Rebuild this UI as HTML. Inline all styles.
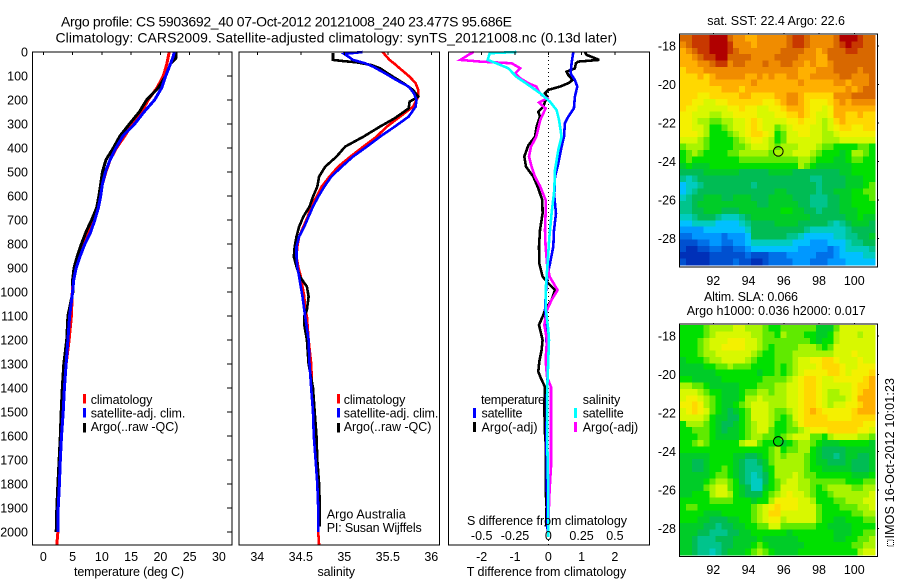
<!DOCTYPE html>
<html lang="en">
<head>
<meta charset="utf-8">
<title>Argo profile 5903692_40</title>
<style>
html,body{margin:0;padding:0;background:#fff;}
svg{display:block;}
text{font-family:"Liberation Sans",Arial,sans-serif;font-size:12.5px;fill:#000;}
.title{font-size:14px;}
.line{fill:none;stroke-linejoin:miter;shape-rendering:crispEdges;}
.frame{fill:none;stroke:#000;stroke-width:1;shape-rendering:crispEdges;}
</style>
</head>
<body>
<svg id="chart" xmlns="http://www.w3.org/2000/svg" width="900" height="580" viewBox="0 0 900 580">
  <rect x="0" y="0" width="900" height="580" fill="#fff"/>

  <text class="title" x="61" y="26.5" textLength="451" lengthAdjust="spacing">Argo profile: CS 5903692_40 07-Oct-2012 20121008_240 23.477S 95.686E</text>
  <text class="title" x="55.5" y="42.5" textLength="561.5" lengthAdjust="spacing">Climatology: CARS2009. Satellite-adjusted climatology: synTS_20121008.nc (0.13d later)</text>

  <g id="panel-t"></g>
  <g id="panel-s"></g>
  <g id="panel-d"></g>
  <g id="map-sst"></g>
  <g id="map-sla"></g>

  <text x="74" y="576" textLength="110" lengthAdjust="spacing">temperature (deg C)</text>
  <text x="317.5" y="576" textLength="37.5" lengthAdjust="spacing">salinity</text>
  <text x="466.7" y="576" textLength="159.5" lengthAdjust="spacing">T difference from climatology</text>
  <text x="467" y="525" textLength="160" lengthAdjust="spacing">S difference from climatology</text>

  <g>
    <g>
      <rect x="83" y="394" width="3" height="9.5" fill="#f00"/>
      <text x="90.7" y="404" textLength="61.7" lengthAdjust="spacing">climatology</text>
    </g>
    <g>
      <rect x="83" y="408" width="3" height="9.5" fill="#00f"/>
      <text x="90.7" y="417.5" textLength="94.7" lengthAdjust="spacing">satellite-adj. clim.</text>
    </g>
    <g>
      <rect x="83" y="423" width="3" height="9.5" fill="#000"/>
      <text x="90.7" y="431" textLength="87.7" lengthAdjust="spacing">Argo(..raw -QC)</text>
    </g>
  </g>

  <g>
    <g>
      <rect x="337" y="394" width="3" height="9.5" fill="#f00"/>
      <text x="343.7" y="404" textLength="61.7" lengthAdjust="spacing">climatology</text>
    </g>
    <g>
      <rect x="337" y="408" width="3" height="9.5" fill="#00f"/>
      <text x="343.7" y="417.5" textLength="94.7" lengthAdjust="spacing">satellite-adj. clim.</text>
    </g>
    <g>
      <rect x="337" y="423" width="3" height="9.5" fill="#000"/>
      <text x="343.7" y="431" textLength="87.7" lengthAdjust="spacing">Argo(..raw -QC)</text>
    </g>
  </g>

  <text x="326.7" y="518.3" textLength="79" lengthAdjust="spacing">Argo Australia</text>
  <text x="326.7" y="532" textLength="95" lengthAdjust="spacing">PI: Susan Wijffels</text>

  <g>
    <text x="481" y="404" textLength="64" lengthAdjust="spacing">temperature</text>
    <text x="582.7" y="404" textLength="37.6" lengthAdjust="spacing">salinity</text>
    <rect x="473" y="408" width="3" height="10" fill="#00f"/>
    <text x="481.5" y="417.5" textLength="41" lengthAdjust="spacing">satellite</text>
    <rect x="473" y="422" width="3" height="10" fill="#000"/>
    <text x="481.5" y="431.5" textLength="56" lengthAdjust="spacing">Argo(-adj)</text>
    <rect x="574" y="408" width="3" height="10" fill="#0ff"/>
    <text x="582.7" y="417.5" textLength="41" lengthAdjust="spacing">satellite</text>
    <rect x="574" y="422" width="3" height="10" fill="#f0f"/>
    <text x="582.7" y="431.5" textLength="55.5" lengthAdjust="spacing">Argo(-adj)</text>
  </g>

  <text x="707.3" y="25" textLength="137.7" lengthAdjust="spacing">sat. SST: 22.4 Argo: 22.6</text>
  <text x="704" y="301" textLength="94" lengthAdjust="spacing">Altim. SLA: 0.066</text>
  <text x="686.7" y="315" textLength="179" lengthAdjust="spacing">Argo h1000: 0.036 h2000: 0.017</text>

  <g>
    <rect x="887.5" y="540" width="6" height="6" fill="none" stroke="#000" stroke-width="1" stroke-dasharray="1 1"/>
    <text transform="translate(894,538.5) rotate(-90)" x="0" y="0" textLength="160.5" lengthAdjust="spacing">IMOS 16-Oct-2012 10:01:23</text>
  </g>
</svg>

<script>
// ---- axis ticks ----
var depthTicks = [0,100,200,300,400,500,600,700,800,900,1000,1100,1200,1300,1400,1500,1600,1700,1800,1900,2000];
var tempTicks = [0,5,10,15,20,25,30];
var salTicks = [34,34.5,35,35.5,36];
var tDiffTicks = [-2,-1,0,1,2];
var sDiffTicks = [-0.5,-0.25,0,0.25,0.5];
var sDiffTickLabels = ["-0.5","-0.25","0","0.25","0.5"];
var lonTicks = [92,94,96,98,100];
var latTicks = [-18,-20,-22,-24,-26,-28];

// ---- temperature profiles (deg C) ----
var tempDepths = [0,25,50,100,150,200,250,300,350,400,450,500,550,600,650,700,750,800,850,900,950,1000,1100,1200,1300,1400,1500,1600,1700,1800,1900,2000,2054];
var tempClim = [21.5,21.3,21.1,20.5,19.4,17.9,16.8,15.2,13.9,12.5,11.4,10.7,10.1,9.7,9.2,8.5,7.7,6.7,6,5.4,5.1,4.95,4.8,4.4,3.9,3.5,3.3,3.1,2.85,2.7,2.5,2.5,2.3];
var tempArgo = [22.65,22.65,21.7,20.9,19.6,17.65,16.4,14.7,13.1,11.95,10.7,10.1,9.8,9.5,9.1,8.25,7.3,6.5,5.8,5.25,5,5.05,4.2,4,3.5,3.25,3.05,2.9,2.7,2.5,2.3,2.2,null];
var tempSat = [22.4,22.1,21.7,20.9,20.2,19,17.2,15.6,13.6,12.4,11.4,10.6,10.1,9.8,9.4,8.8,8.1,7.1,6.3,5.6,5.2,5,4.5,4.2,3.9,3.6,3.4,3.1,2.9,2.75,2.55,2.55,null];

// ---- salinity profiles ----
var salClimDepths = [0,33,47,75,103,130,158,186,228,269,311,353,394,436,478,519,561,603,644,686,728,769,811,853,894,936,978,1019,1075,1100,1200,1300,1400,1500,1600,1700,1800,1900,2000,2054];
var salClim = [35.44,35.52,35.57,35.66,35.75,35.82,35.85,35.85,35.79,35.64,35.49,35.37,35.22,35.07,34.93,34.83,34.74,34.68,34.62,34.58,34.53,34.48,34.46,34.45,34.47,34.5,34.52,34.54,34.55,34.57,34.59,34.62,34.63,34.645,34.66,34.67,34.69,34.7,34.7,34.71];
var salArgoDepths = [5,33,38,43,54,68,82,103,130,158,186,207,235,276,311,353,394,436,478,519,561,603,644,686,728,769,811,853,894,936,978,1019,1075,1100,1137,1200,1300,1400,1500,1600,1700,1800,1900,1978];
var salArgo = [34.87,34.87,34.99,35.14,35.31,35.41,35.47,35.56,35.68,35.79,35.85,35.75,35.74,35.58,35.41,35.22,35.01,34.91,34.78,34.71,34.69,34.64,34.6,34.53,34.48,34.45,34.43,34.42,34.45,34.49,34.57,34.59,34.57,34.54,34.54,34.57,34.59,34.64,34.66,34.68,34.69,34.71,34.72,34.72];
var salSatDepths = [0,8,20,33,47,61,89,117,144,172,200,228,269,311,353,394,436,478,519,561,603,644,686,728,769,811,853,894,936,978,1019,1075,1100,1200,1300,1400,1500,1600,1700,1800,1900,2000];
var salSat = [35.21,35,35.05,35.1,35.24,35.33,35.47,35.6,35.74,35.8,35.83,35.82,35.74,35.58,35.41,35.26,35.1,34.97,34.85,34.77,34.7,34.64,34.59,34.54,34.48,34.45,34.45,34.46,34.48,34.5,34.52,34.54,34.55,34.59,34.6,34.62,34.64,34.65,34.67,34.69,34.7,34.7];

// ---- differences from climatology ----
var tDiffSatDepths = [0,47,89,117,144,186,235,269,297,353,394,464,519,603,672,742,811,881,936,992,1075,1300,1600,2000];
var tDiffSat = [0.75,0.7,0.67,0.8,0.87,0.8,0.77,0.6,0.5,0.47,0.4,0.3,0.2,0.18,0.23,0.17,0.15,0.05,-0.03,-0.07,-0.1,-0.02,-0.06,-0.02];
var tDiffArgoDepths = [0,12,33,40,47,68,82,96,117,130,144,158,172,186,207,228,249,269,311,353,389,436,478,519,561,617,672,742,811,881,936,964,992,1033,1075,1096,1137,1172,1200,1242,1290,1332,1360,1396,1479,1590,1647,1744,1825,1894,1978];
var tDiffArgo = [1.1,1.15,1.53,0.9,0.83,0.8,0.55,0.6,0.73,0.6,0.35,0,-0.1,-0.03,-0.1,-0.15,-0.3,-0.25,-0.35,-0.4,-0.6,-0.72,-0.67,-0.45,-0.32,-0.18,-0.17,-0.25,-0.28,-0.27,-0.17,0,0.2,0.1,-0.1,-0.15,-0.28,-0.22,-0.17,-0.2,-0.27,-0.3,-0.22,-0.1,-0.12,-0.1,-0.07,-0.08,-0.08,-0.05,-0.07];
var sDiffSatDepths = [0,5,33,47,68,103,137,172,207,242,283,353,408,492,575,672,769,881,978,1075,1158,1200,1408,1617,1825,2020];
var sDiffSat = [-0.24,-0.44,-0.455,-0.39,-0.3,-0.24,-0.15,-0.06,0.0125,0.0625,0.08,0.1,0.075,0.05,0.045,0.025,0.008,-0.005,-0.018,-0.018,0,0.005,-0.008,-0.008,0,0];
var sDiffArgoDepths = [0,12,33,40,47,68,89,110,130,144,165,179,193,211,235,283,353,394,436,478,519,561,617,672,742,811,881,936,992,1033,1075,1137,1200,1283,1353,1396,1590,1728,1825,1964];
var sDiffArgo = [-0.56,-0.6,-0.66,-0.51,-0.275,-0.21,-0.25,-0.21,-0.15,-0.09,-0.07,-0.05,-0.01,-0.07,-0.02,-0.06,-0.09,-0.13,-0.145,-0.125,-0.1,-0.06,-0.02,-0.02,-0.025,-0.02,-0.01,0.01,0.07,0.025,-0.01,-0.03,-0.01,-0.02,-0.01,0.02,0.02,0.02,0.01,0];

// ---- Argo float position ----
var argoLon = 95.69;
var argoLat = -23.48;

// ---- map colour levels (0 = coldest/lowest, 19 = warmest/highest), rows north to south ----
var sstGrid = [
[17,17,18,18,18,19,19,19,17,16,16,15,15,16,16,16,16,16,17,18,18,17,16,16,16,16,17,19,19,19,18,17,17],
[16,17,18,18,18,19,19,19,18,16,16,16,15,16,16,16,16,16,17,18,18,17,16,16,16,16,17,18,19,18,18,17,17],
[15,16,17,18,18,19,19,19,18,17,16,16,16,16,16,16,16,17,17,17,17,16,16,15,16,17,17,17,18,18,17,17,17],
[15,15,16,17,18,18,19,19,17,17,17,17,16,16,16,16,17,17,17,17,16,16,16,15,15,17,17,17,17,17,17,17,17],
[15,15,15,16,16,17,18,18,16,17,17,16,16,16,17,16,16,17,17,16,16,15,16,15,15,16,17,17,17,17,17,17,17],
[14,15,15,15,16,16,16,16,16,16,16,16,16,16,16,16,16,16,16,16,15,15,15,16,16,16,17,17,17,17,16,17,17],
[14,14,14,15,14,15,16,16,16,16,16,15,15,16,15,16,15,15,16,16,15,15,16,16,16,16,16,17,17,16,16,16,17],
[14,14,14,14,14,15,15,15,15,15,15,15,16,15,15,15,15,15,15,15,16,15,15,15,15,15,16,16,15,16,16,16,17],
[14,14,14,14,14,14,14,15,15,15,14,15,15,15,15,15,15,15,15,15,15,15,15,15,15,15,15,15,16,15,16,17,17],
[14,14,14,13,13,14,14,14,14,14,15,15,14,14,14,14,15,15,16,16,15,14,14,14,14,14,16,16,16,17,17,17,17],
[14,14,13,13,12,12,13,13,14,14,14,14,14,14,13,13,14,15,16,16,15,14,13,13,13,14,15,16,15,16,16,16,16],
[14,13,13,12,12,12,12,12,13,13,14,13,13,12,12,13,13,14,15,15,15,14,13,13,12,13,15,15,15,15,15,15,15],
[13,13,12,12,12,11,11,12,12,13,13,13,13,12,12,12,13,13,14,14,15,14,13,12,12,13,15,15,14,14,15,14,14],
[13,13,12,11,11,10,10,11,11,12,12,13,14,13,12,12,12,12,13,13,14,13,13,12,11,12,14,15,14,14,14,14,14],
[13,13,12,12,11,9,9,10,11,12,12,13,14,13,12,12,10,11,12,13,13,13,12,12,11,12,13,14,14,13,13,14,14],
[13,13,13,12,11,9,9,9,10,11,12,13,14,14,13,12,9,10,12,12,13,13,12,12,11,11,12,13,13,13,13,13,13],
[12,12,12,11,10,9,9,9,9,10,11,12,13,13,12,11,9,10,12,12,12,12,12,12,11,11,11,12,12,12,12,12,12],
[10,11,11,11,10,9,9,9,9,10,10,11,12,12,12,11,10,11,11,11,12,12,12,11,10,10,9,9,9,9,10,10,9],
[9,10,11,10,9,9,9,9,10,10,11,11,11,11,11,10,11,11,11,12,12,12,11,10,9,9,9,8,9,11,11,10,9],
[9,10,9,9,9,9,9,9,9,9,10,10,10,10,10,10,10,10,10,10,11,11,10,9,9,9,8,8,9,10,10,9,9],
[8,9,8,8,8,9,9,9,9,9,9,9,9,9,9,9,9,9,9,9,11,10,9,8,8,8,8,8,8,9,9,9,9],
[7,7,7,7,8,8,8,8,8,8,7,7,7,7,7,8,8,8,8,7,7,7,7,7,7,7,7,8,8,9,9,9,9],
[6,5,6,7,7,7,7,7,7,7,7,7,7,7,7,7,7,7,7,7,7,7,6,6,7,7,7,7,8,8,8,9,9],
[4,5,5,6,7,7,7,7,7,7,7,7,6,7,7,7,7,7,7,7,7,7,7,6,7,7,7,7,8,8,8,9,10],
[4,5,6,7,7,7,7,7,7,7,7,7,7,7,7,7,8,8,7,7,7,7,7,6,7,7,8,8,8,9,9,10,10],
[5,6,7,7,8,8,8,7,7,8,8,8,7,7,7,8,8,8,8,7,7,7,6,6,6,7,7,8,8,9,9,9,10],
[6,6,7,8,8,8,8,8,8,8,8,8,8,7,7,8,8,8,8,8,7,7,6,6,6,7,7,8,8,9,9,9,9],
[6,6,7,7,8,8,8,7,7,7,8,8,8,8,8,8,8,9,9,8,8,7,7,6,7,7,7,8,8,8,9,9,9],
[5,5,6,7,7,7,6,5,5,5,6,7,8,8,8,8,8,8,8,8,8,8,7,7,7,7,7,7,8,8,9,8,8],
[4,4,5,5,5,5,4,4,4,4,5,6,7,7,7,7,8,8,8,8,7,7,7,7,7,6,5,6,7,8,8,8,7],
[3,3,3,3,4,4,4,4,4,4,4,5,7,7,7,7,7,7,7,7,7,6,5,5,5,5,5,5,6,7,7,7,7],
[2,2,3,3,3,3,3,2,3,3,3,4,7,7,7,7,7,7,6,6,5,4,4,4,4,4,5,5,6,6,7,7,8],
[1,1,1,2,2,3,3,2,2,3,3,4,5,5,5,5,5,5,5,4,4,4,3,3,3,4,4,4,5,6,6,7,7],
[1,0,0,1,1,2,2,1,1,2,2,3,4,4,4,4,4,4,4,4,3,3,3,3,3,2,3,4,5,5,5,5,6],
[0,0,0,0,0,1,1,1,1,1,1,2,1,1,1,2,2,2,3,3,3,3,3,2,2,2,3,4,4,4,4,5,5],
[1,0,0,0,0,1,1,1,1,2,1,1,0,0,1,2,2,2,2,3,3,3,2,2,2,3,3,3,4,4,4,4,4]
];
var slaGrid = [
[9,9,9,9,10,11,11,11,11,12,12,11,11,11,10,9,9,10,10,10,10,10,10,8,8,8,10,12,12,12,12,12,12],
[9,9,9,9,10,11,12,12,12,12,12,12,11,11,10,10,9,11,10,10,10,9,9,8,8,9,11,12,12,12,11,12,12],
[9,9,9,10,11,12,12,12,13,13,13,12,12,11,10,10,10,10,10,10,10,10,9,8,9,9,11,12,12,12,12,12,12],
[9,9,9,10,11,12,12,13,13,13,13,12,12,11,10,9,10,10,10,10,11,11,11,10,9,10,12,12,12,12,12,12,12],
[9,9,9,10,11,11,12,12,12,12,12,12,11,10,9,9,10,10,10,11,11,11,11,11,11,11,12,12,12,13,12,12,12],
[8,9,9,9,10,11,11,12,12,12,12,11,10,9,9,9,10,10,10,11,12,12,13,13,14,14,13,12,12,12,13,12,12],
[8,8,8,8,9,9,10,10,11,10,10,10,9,9,9,9,10,9,10,11,12,12,12,13,14,14,14,13,12,12,13,13,13],
[8,8,8,8,8,8,9,9,9,9,9,9,9,8,9,9,10,9,10,11,12,13,13,13,13,14,14,13,12,13,13,13,14],
[9,9,8,8,8,8,8,9,9,9,9,9,9,9,10,10,10,10,11,12,13,14,14,13,12,12,13,13,13,13,13,14,15],
[11,11,10,10,9,8,8,8,8,8,9,9,9,10,10,10,11,11,12,12,13,14,14,13,12,12,12,12,12,13,14,14,15],
[12,12,12,11,10,9,9,8,8,8,9,10,10,11,11,10,11,11,12,12,13,14,14,13,12,11,11,12,12,13,14,15,15],
[12,13,13,12,11,10,9,8,8,8,9,11,11,12,11,11,11,11,12,12,13,14,14,13,12,11,11,11,12,13,15,15,15],
[13,13,14,13,11,10,9,8,8,9,10,11,12,12,12,11,11,11,12,12,13,14,14,13,12,11,12,12,13,13,14,15,15],
[12,13,14,13,12,10,9,8,7,8,9,10,12,12,12,11,10,10,11,12,13,14,15,14,13,13,13,13,13,14,15,15,15],
[12,12,12,12,11,9,8,8,7,7,9,10,12,12,12,11,10,9,10,12,13,14,14,14,14,13,13,13,13,14,14,14,14],
[9,11,11,11,10,9,8,7,7,8,9,10,11,12,12,11,9,9,10,11,13,14,14,14,14,14,14,14,14,14,14,13,13],
[9,9,10,10,10,9,8,7,8,8,9,10,11,12,12,10,9,9,10,10,11,12,13,13,13,14,14,14,14,14,13,13,12],
[9,9,9,10,10,9,8,8,8,8,9,10,11,11,10,10,9,10,11,12,12,12,10,10,9,11,12,12,12,12,11,11,10],
[9,9,10,11,10,9,9,9,9,9,11,12,12,10,9,9,9,8,9,10,11,11,10,9,8,8,8,9,9,9,9,9,8],
[9,9,9,9,9,9,9,9,9,9,9,9,9,9,9,10,11,9,10,10,11,11,9,8,7,7,7,7,8,8,8,8,8],
[8,8,8,8,8,9,9,9,9,8,8,7,7,8,9,10,11,10,11,11,11,10,9,8,7,7,6,7,8,8,7,7,8],
[8,8,7,7,8,9,9,9,9,8,7,6,6,7,8,10,11,11,11,11,11,10,9,8,8,7,7,7,8,7,7,7,8],
[8,8,7,7,8,9,9,10,9,8,7,6,6,6,8,9,11,11,11,11,11,10,9,9,8,8,8,8,8,7,7,7,8],
[8,8,8,8,8,9,10,10,9,8,7,6,5,6,7,9,11,11,11,12,11,10,10,9,9,9,9,9,9,8,8,8,9],
[8,8,8,8,9,10,11,11,10,9,7,6,5,5,7,9,10,11,12,12,11,11,10,10,10,10,10,10,9,9,9,10,10],
[8,8,8,8,10,11,12,12,10,9,8,7,5,5,8,9,10,12,12,12,11,11,10,9,10,11,11,11,11,10,10,11,11],
[8,8,9,9,9,11,12,12,11,9,8,7,7,7,9,10,11,12,13,12,12,11,10,9,9,10,11,11,11,11,11,11,12],
[9,9,9,9,9,10,10,10,10,9,9,9,8,9,9,11,13,13,13,13,12,12,11,9,9,9,10,10,11,11,11,12,12],
[9,10,10,9,9,9,9,9,9,9,9,9,10,11,12,13,14,13,13,13,12,12,12,10,9,9,9,10,10,10,11,11,12],
[9,9,9,9,8,8,8,9,9,9,9,9,10,11,12,14,14,12,12,12,12,12,12,10,9,9,9,9,9,10,10,11,11],
[9,9,9,8,8,7,7,7,8,8,9,9,10,11,12,13,13,11,12,12,12,12,12,10,9,9,8,8,9,9,9,10,10],
[8,8,8,8,7,7,6,7,7,8,8,9,9,10,10,12,12,10,10,10,10,10,10,9,9,8,8,8,8,9,9,9,9],
[8,8,8,7,7,6,6,6,7,7,8,8,9,9,9,9,9,9,8,9,9,9,9,9,9,9,8,8,8,9,9,10,10],
[8,8,7,6,6,6,7,7,7,8,8,8,8,9,8,8,8,8,8,8,9,9,9,9,9,9,8,8,9,9,10,10,11],
[8,8,7,6,6,6,6,7,7,8,8,8,9,10,9,8,8,8,8,8,8,9,9,9,9,9,9,9,9,10,10,11,11],
[8,8,7,6,6,5,6,7,8,8,8,9,10,11,10,9,8,8,8,8,9,9,9,9,9,9,9,9,9,9,11,12,12]
];
var levelColors = ["#0030b8","#0050d0","#0070e8","#0098ff","#00c0ff","#00ccc0","#00c48c","#00bc54","#00cc28","#00e000","#60ea00","#a8f400","#d8f800","#f4f000","#ffd800","#ffb000","#f08c00","#d86800","#c83800","#b00000"];

// ---- axis functions ----
function yDepth(d){ return 52 + d * 0.24; }
function xTemp(t){ return 43.3 + t * 5.855; }
function xSal(s){ return 257.3 + (s - 34) * 87; }
function xTDiff(t){ return 548.3 + t * 33.3; }
function xSDiff(s){ return 548.3 + s * 133.2; }
function xLon(lon){ return 713.3 + (lon - 92) * 17.62; }
function ySst(lat){ return 46 + (-18 - lat) * 19.23; }
function ySla(lat){ return 336 + (-18 - lat) * 19.23; }

var NS = "http://www.w3.org/2000/svg";
function make(tag, attrs, parent){
  var el = document.createElementNS(NS, tag);
  for (var k in attrs) el.setAttribute(k, attrs[k]);
  parent.appendChild(el);
  return el;
}
function drawProfile(parent, depths, values, xFn, color, width, name){
  var pts = [];
  for (var i = 0; i < depths.length; i++){
    if (values[i] === null || values[i] === undefined) continue;
    pts.push(xFn(values[i]).toFixed(1) + "," + yDepth(depths[i]).toFixed(1));
  }
  var el = make("polyline", {"class":"line", points:pts.join(" "), stroke:color, "stroke-width":width}, parent);
  
  
}
function drawTick(parent, x1, y1, x2, y2){
  var el = make("line", {x1:x1, y1:y1, x2:x2, y2:y2, stroke:"#000", "stroke-width":1, "shape-rendering":"crispEdges"}, parent);
  
  
}
function drawLabel(parent, x, y, txt, anchor, name){
  var el = make("text", {x:x, y:y, "text-anchor":anchor}, parent);
  el.textContent = txt;
  
  
}
function drawFrame(parent, x, y, w, h, name){
  var el = make("rect", {"class":"frame", x:x, y:y, width:w, height:h}, parent);
  
  
}

// temperature panel
var pT = document.getElementById("panel-t");
drawProfile(pT, tempDepths, tempClim, xTemp, "#f00", 3, "temperature-climatology-line");
drawProfile(pT, tempDepths, tempArgo, xTemp, "#000", 3, "temperature-argo-line");
drawProfile(pT, tempDepths, tempSat, xTemp, "#00f", 3, "temperature-satellite-line");
drawFrame(pT, 32.5, 52, 199.5, 493, "temperature-plot-frame");
depthTicks.forEach(function(d){
  drawTick(pT, 227, yDepth(d), 232, yDepth(d));
  drawLabel(pT, 28, yDepth(d) + 4.5, String(d), "end", "depth-tick-label");
});
tempTicks.forEach(function(t){
  drawTick(pT, xTemp(t), 52, xTemp(t), 55);
  drawLabel(pT, xTemp(t), 561, String(t), "middle", "temperature-tick-label");
});

// salinity panel
var pS = document.getElementById("panel-s");
drawProfile(pS, salClimDepths, salClim, xSal, "#f00", 2.6, "salinity-climatology-line");
drawProfile(pS, salArgoDepths, salArgo, xSal, "#000", 2.6, "salinity-argo-line");
drawProfile(pS, salSatDepths, salSat, xSal, "#00f", 2.6, "salinity-satellite-line");
drawFrame(pS, 239, 52, 200.5, 493, "salinity-plot-frame");
salTicks.forEach(function(s){
  drawTick(pS, xSal(s), 52, xSal(s), 55);
  drawLabel(pS, xSal(s), 561, String(s), "middle", "salinity-tick-label");
});

// difference panel
var pD = document.getElementById("panel-d");
var zeroLine = make("line", {x1:xTDiff(0), y1:52, x2:xTDiff(0), y2:545, stroke:"#000", "stroke-width":1, "stroke-dasharray":"1 3", "shape-rendering":"crispEdges"}, pD);


drawProfile(pD, tDiffArgoDepths, tDiffArgo, xTDiff, "#000", 2.6, "t-difference-argo-line");
drawProfile(pD, tDiffSatDepths, tDiffSat, xTDiff, "#00f", 2.6, "t-difference-satellite-line");
drawProfile(pD, sDiffArgoDepths, sDiffArgo, xSDiff, "#f0f", 2.6, "s-difference-argo-line");
drawProfile(pD, sDiffSatDepths, sDiffSat, xSDiff, "#0ff", 2.6, "s-difference-satellite-line");
drawFrame(pD, 448.5, 52, 201, 493, "difference-plot-frame");
tDiffTicks.forEach(function(t){
  drawTick(pD, xTDiff(t), 52, xTDiff(t), 55);
  drawLabel(pD, xTDiff(t), 561, String(t), "middle", "t-difference-tick-label");
});
sDiffTicks.forEach(function(s, i){
  drawLabel(pD, xSDiff(s), 540, sDiffTickLabels[i], "middle", "s-difference-tick-label");
});

// maps
function drawMap(parent, grid, x0, y0, x1, y1, frameTop, frameBottom, yFn, labelY, name){
  var rows = grid.length, cols = grid[0].length;
  var w = (x1 - x0) / cols, h = (y1 - y0) / rows;
  for (var r = 0; r < rows; r++){
    for (var c = 0; c < cols; c++){
      var cell = make("rect", {x:(x0 + c * w).toFixed(2), y:(y0 + r * h).toFixed(2), width:(w + 0.3).toFixed(2), height:(h + 0.3).toFixed(2), fill:levelColors[grid[r][c]], "shape-rendering":"crispEdges"}, parent);
      
      
    }
  }
  drawFrame(parent, 679.5, frameTop, 198, frameBottom - frameTop, name + "-frame");
  lonTicks.forEach(function(lon){
    drawTick(parent, xLon(lon), frameTop - 1, xLon(lon), frameTop);
    drawLabel(parent, xLon(lon), labelY, String(lon), "middle", "longitude-tick-label");
  });
  latTicks.forEach(function(lat){
    drawTick(parent, 877, yFn(lat), 879, yFn(lat));
    drawLabel(parent, 676, yFn(lat) + 4.5, String(lat), "end", "latitude-tick-label");
  });
  var marker = make("circle", {cx:xLon(argoLon), cy:yFn(argoLat), r:4.8, fill:"none", stroke:"#000", "stroke-width":1}, parent);
  
  
}
drawMap(document.getElementById("map-sst"), sstGrid, 680, 35, 875, 265, 34, 267, ySst, 285, "sst-map");
drawMap(document.getElementById("map-sla"), slaGrid, 680, 325, 875, 555, 324, 556.5, ySla, 574, "sla-map");
</script>
</body>
</html>
